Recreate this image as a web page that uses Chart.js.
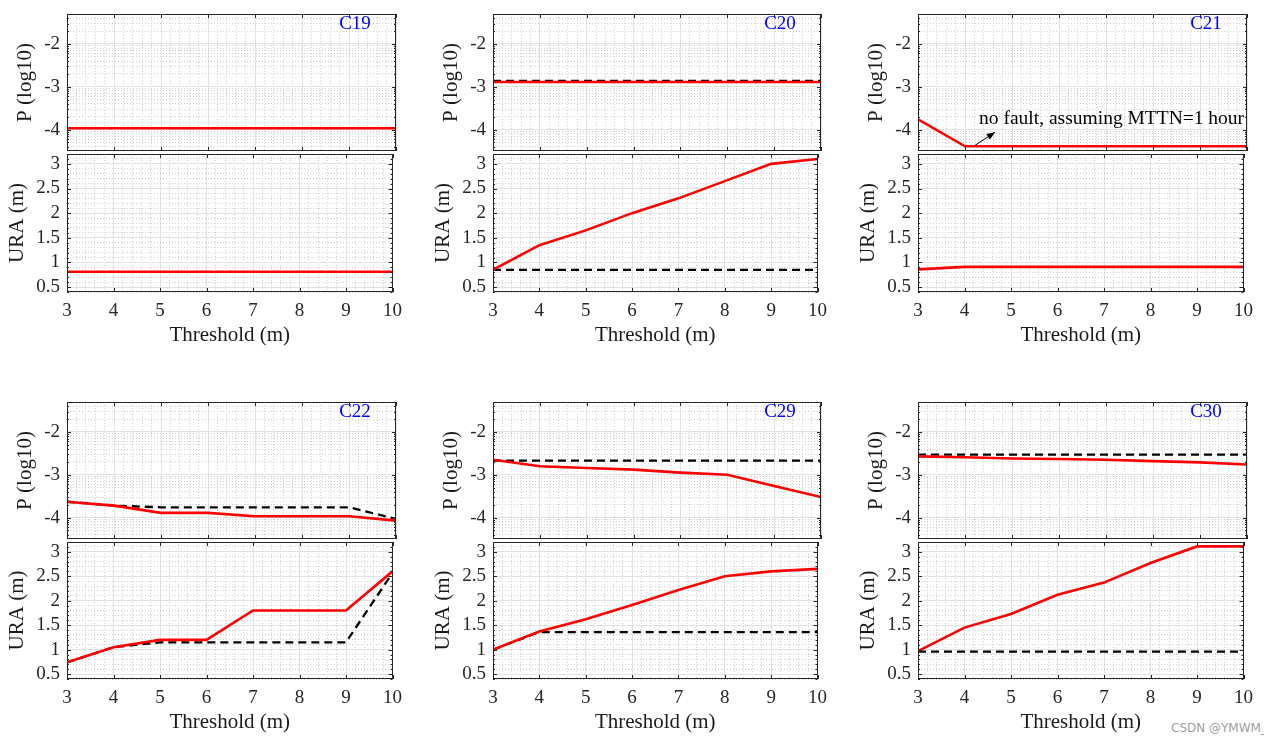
<!DOCTYPE html>
<html>
<head>
<meta charset="utf-8">
<script src="https://cdn.jsdelivr.net/npm/chart.js@4.4.1/dist/chart.umd.min.js"></script>
<style>
  body { margin: 0; background: #fff; }
  #wrap { position: relative; width: 1264px; height: 743px; overflow: hidden; }
  .cell { position: absolute; }
  #mark { position: absolute; left: 1171px; top: 721px; font: 12px "DejaVu Sans", sans-serif; color: #a0a0a0; white-space: nowrap; }
</style>
</head>
<body>
<div id="wrap"><div id="mark">CSDN @YMWM_</div></div>
<script>
// x축 (Threshold)
var thresholds = [3, 4, 5, 6, 7, 8, 9, 10];
var xTickLabels = [3, 4, 5, 6, 7, 8, 9, 10];
var pTickLabels = [-4, -3, -2];
var uraTickLabels = [0.5, 1, 1.5, 2, 2.5, 3];
var satNames = ['C19', 'C20', 'C21', 'C22', 'C29', 'C30'];

// P (log10) : red = 실선, black = 점선
var pRedC19 = [-3.97, -3.97, -3.97, -3.97, -3.97, -3.97, -3.97, -3.97];
var pRedC20 = [-2.89, -2.89, -2.89, -2.89, -2.89, -2.89, -2.89, -2.89];
var pBlackC20 = [-2.86, -2.86, -2.86, -2.86, -2.86, -2.86, -2.86, -2.86];
var pRedC21 = [-3.76, -4.39, -4.39, -4.39, -4.39, -4.39, -4.39, -4.39];
var pRedC22 = [-3.63, -3.72, -3.89, -3.89, -3.97, -3.97, -3.97, -4.07];
var pBlackC22 = [-3.63, -3.72, -3.76, -3.76, -3.76, -3.76, -3.76, -4.03];
var pRedC29 = [-2.65, -2.8, -2.84, -2.88, -2.95, -3.0, -3.26, -3.52];
var pBlackC29 = [-2.67, -2.67, -2.67, -2.67, -2.67, -2.67, -2.67, -2.67];
var pRedC30 = [-2.57, -2.59, -2.62, -2.63, -2.65, -2.68, -2.71, -2.76];
var pBlackC30 = [-2.53, -2.53, -2.53, -2.53, -2.53, -2.53, -2.53, -2.53];

// URA (m)
var uraRedC19 = [0.81, 0.81, 0.81, 0.81, 0.81, 0.81, 0.81, 0.81];
var uraRedC20 = [0.85, 1.35, 1.65, 2.0, 2.3, 2.65, 3.0, 3.1];
var uraBlackC20 = [0.85, 0.85, 0.85, 0.85, 0.85, 0.85, 0.85, 0.85];
var uraRedC21 = [0.86, 0.91, 0.91, 0.91, 0.91, 0.91, 0.91, 0.91];
var uraRedC22 = [0.74, 1.05, 1.2, 1.2, 1.8, 1.8, 1.8, 2.6];
var uraBlackC22 = [0.74, 1.05, 1.15, 1.15, 1.15, 1.15, 1.15, 2.57];
var uraRedC29 = [1.0, 1.37, 1.62, 1.91, 2.22, 2.5, 2.6, 2.65];
var uraBlackC29 = [1.0, 1.36, 1.36, 1.36, 1.36, 1.36, 1.36, 1.36];
var uraRedC30 = [0.97, 1.45, 1.73, 2.12, 2.37, 2.77, 3.11, 3.11];
var uraBlackC30 = [0.96, 0.96, 0.96, 0.96, 0.96, 0.96, 0.96, 0.96];

var pRed = [pRedC19, pRedC20, pRedC21, pRedC22, pRedC29, pRedC30];
var pBlack = [null, pBlackC20, null, pBlackC22, pBlackC29, pBlackC30];
var uraRed = [uraRedC19, uraRedC20, uraRedC21, uraRedC22, uraRedC29, uraRedC30];
var uraBlack = [null, uraBlackC20, null, uraBlackC22, uraBlackC29, uraBlackC30];

// 배치 (pixel)
var colLeft = [67, 493, 918];
var colRight = [396, 821, 1247];
var pTop = [14, 402], pBottom = [151, 539.5];
var uTop = [154, 542.3], uBottom = [292, 680];
var AXW = 64, PADR = 14, PADV = 28;

var SERIF = '"Liberation Serif", "Times New Roman", serif';
Chart.defaults.font.family = SERIF;
Chart.defaults.color = '#262626';

function round4(v) { return Math.round(v * 10000) / 10000; }

// 눈금 목록 (major + minor)
function tickList(majors, minors) {
  var list = [];
  majors.forEach(function(v){ list.push({ value: v, m: false }); });
  minors.forEach(function(v){
    v = round4(v);
    if (majors.indexOf(v) < 0) list.push({ value: v, m: true });
  });
  list.sort(function(a, b){ return a.value - b.value; });
  return list;
}

var xMinor = [];
for (var i = 3; i < 10; i++) for (var j = 1; j < 5; j++) xMinor.push(i + j * 0.2);
var pMinor = [];
[-5, -4, -3, -2].forEach(function(d){
  for (var k = 2; k < 10; k++) {
    var v = d + Math.log10(k);
    if (v > -4.5 && v < -1.3) pMinor.push(v);
  }
});
var uMinor = [];
for (var u = 4; u <= 32; u++) uMinor.push(u / 10);

var xTicksAll = tickList(xTickLabels, xMinor);
var pTicksAll = tickList(pTickLabels, pMinor);
var uTicksAll = tickList(uraTickLabels, uMinor);

var gridOpts = {
  color: function(c){ return c.tick && c.tick.m ? '#d0d0d0' : '#e2e2e2'; },
  lineWidth: 1,
  drawTicks: false
};
var borderOpts = {
  display: false,
  dash: function(c){ return c.tick && c.tick.m ? [1, 2] : []; }
};

// 테두리 + 안쪽 눈금
var boxPlugin = {
  id: 'box',
  afterDraw: function(chart) {
    var a = chart.chartArea, ctx = chart.ctx;
    ctx.save();
    ctx.strokeStyle = '#262626';
    ctx.lineWidth = 1;
    ctx.strokeRect(Math.round(a.left) + 0.5, Math.round(a.top) + 0.5,
                   Math.round(a.right - a.left) - 1, Math.round(a.bottom - a.top) - 1);
    ctx.beginPath();
    chart.scales.x.ticks.forEach(function(t){
      if (t.m) return;
      var px = Math.round(chart.scales.x.getPixelForValue(t.value)) + 0.5;
      ctx.moveTo(px, a.bottom); ctx.lineTo(px, a.bottom - 4);
      ctx.moveTo(px, a.top); ctx.lineTo(px, a.top + 4);
    });
    chart.scales.y.ticks.forEach(function(t){
      var py = Math.round(chart.scales.y.getPixelForValue(t.value)) + 0.5;
      var len = t.m ? 2 : 4;
      ctx.moveTo(a.left, py); ctx.lineTo(a.left + len, py);
      ctx.moveTo(a.right, py); ctx.lineTo(a.right - len, py);
    });
    ctx.stroke();
    ctx.restore();
  }
};

function namePlugin(name) {
  return {
    id: 'satname',
    afterDraw: function(chart) {
      var a = chart.chartArea, ctx = chart.ctx;
      ctx.save();
      ctx.fillStyle = '#0000ff';
      ctx.font = '19px ' + SERIF;
      ctx.textAlign = 'center';
      ctx.textBaseline = 'middle';
      ctx.fillText(name, a.right - 41, a.top + 10);
      ctx.restore();
    }
  };
}

// C21 주석
var notePlugin = {
  id: 'note',
  afterDraw: function(chart) {
    var xs = chart.scales.x, ys = chart.scales.y, ctx = chart.ctx;
    ctx.save();
    ctx.fillStyle = '#000';
    ctx.font = '19.5px ' + SERIF;
    ctx.textAlign = 'left';
    ctx.textBaseline = 'middle';
    ctx.fillText('no fault, assuming MTTN=1 hour', xs.getPixelForValue(4.3), ys.getPixelForValue(-3.76));
    var x0 = xs.getPixelForValue(4.21), y0 = ys.getPixelForValue(-4.37);
    var x1 = xs.getPixelForValue(4.64), y1 = ys.getPixelForValue(-4.06);
    ctx.strokeStyle = '#000';
    ctx.lineWidth = 1;
    ctx.beginPath(); ctx.moveTo(x0, y0); ctx.lineTo(x1, y1); ctx.stroke();
    var ang = Math.atan2(y1 - y0, x1 - x0);
    ctx.beginPath();
    ctx.moveTo(x1, y1);
    ctx.lineTo(x1 - 9 * Math.cos(ang - 0.38), y1 - 9 * Math.sin(ang - 0.38));
    ctx.lineTo(x1 - 9 * Math.cos(ang + 0.38), y1 - 9 * Math.sin(ang + 0.38));
    ctx.closePath(); ctx.fill();
    ctx.restore();
  }
};

function datasets(red, black) {
  var ds = [{
    data: red,
    borderColor: '#ff0000',
    borderWidth: 2.6,
    pointRadius: 0,
    tension: 0
  }];
  if (black) ds.push({
    data: black,
    borderColor: '#000000',
    borderWidth: 2.3,
    borderDash: [8, 5],
    pointRadius: 0,
    tension: 0
  });
  return ds;
}

function addChart(left, top, w, h, cfg) {
  var div = document.createElement('div');
  div.className = 'cell';
  div.style.left = left + 'px';
  div.style.top = top + 'px';
  var cv = document.createElement('canvas');
  cv.width = w; cv.height = h;
  div.appendChild(cv);
  document.getElementById('wrap').appendChild(div);
  return new Chart(cv, cfg);
}

function subplot(idx, kind) {
  var col = idx % 3, row = Math.floor(idx / 3);
  var isP = kind === 'P';
  var plotW = colRight[col] - colLeft[col];
  var top = isP ? pTop[row] : uTop[row];
  var plotH = isP ? pBottom[row] - pTop[row] : uBottom[row] - uTop[row];
  var bottomH = isP ? 0 : 56;
  var padB = isP ? PADV : 0;
  var yTicks = isP ? pTicksAll : uTicksAll;
  var yMajor = isP ? pTickLabels : uraTickLabels;

  var plugins = [boxPlugin];
  if (isP) plugins.push(namePlugin(satNames[idx]));
  if (isP && satNames[idx] === 'C21') plugins.push(notePlugin);

  addChart(colLeft[col] - AXW, top - PADV, AXW + plotW + PADR, PADV + plotH + bottomH + padB, {
    type: 'line',
    data: {
      labels: thresholds,
      datasets: datasets(isP ? pRed[idx] : uraRed[idx], isP ? pBlack[idx] : uraBlack[idx])
    },
    options: {
      responsive: false,
      animation: false,
      layout: { padding: { left: 0, right: PADR, top: PADV, bottom: padB } },
      plugins: { legend: { display: false }, tooltip: { enabled: false } },
      scales: {
        x: {
          type: 'linear',
          min: 3, max: 10,
          grid: gridOpts,
          border: borderOpts,
          afterBuildTicks: function(s){ s.ticks = xTicksAll.map(function(t){ return { value: t.value, m: t.m }; }); },
          afterFit: function(s){ s.height = bottomH; },
          ticks: {
            display: !isP,
            autoSkip: false,
            maxRotation: 0,
            padding: 8,
            font: { family: SERIF, size: 19 },
            callback: function(v){ return xTickLabels.indexOf(round4(v)) >= 0 ? String(round4(v)) : ''; }
          },
          title: {
            display: !isP,
            text: 'Threshold (m)',
            color: '#1a1a1a',
            font: { family: SERIF, size: 21 },
            padding: { top: 0, bottom: 0 }
          }
        },
        y: {
          type: 'linear',
          min: isP ? -4.5 : 0.4,
          max: isP ? -1.3 : 3.2,
          grid: gridOpts,
          border: borderOpts,
          afterBuildTicks: function(s){ s.ticks = yTicks.map(function(t){ return { value: t.value, m: t.m }; }); },
          afterFit: function(s){ s.width = AXW; },
          ticks: {
            autoSkip: false,
            padding: 7,
            font: { family: SERIF, size: 19 },
            callback: function(v){ return yMajor.indexOf(round4(v)) >= 0 ? String(round4(v)) : ''; }
          },
          title: {
            display: true,
            text: isP ? 'P (log10)' : 'URA (m)',
            color: '#1a1a1a',
            font: { family: SERIF, size: 21 },
            padding: { top: isP ? 9.4 : 1.4, bottom: 0 }
          }
        }
      }
    },
    plugins: plugins
  });
}

for (var n = 0; n < satNames.length; n++) {
  subplot(n, 'P');
  subplot(n, 'URA');
}
</script>
</body>
</html>
